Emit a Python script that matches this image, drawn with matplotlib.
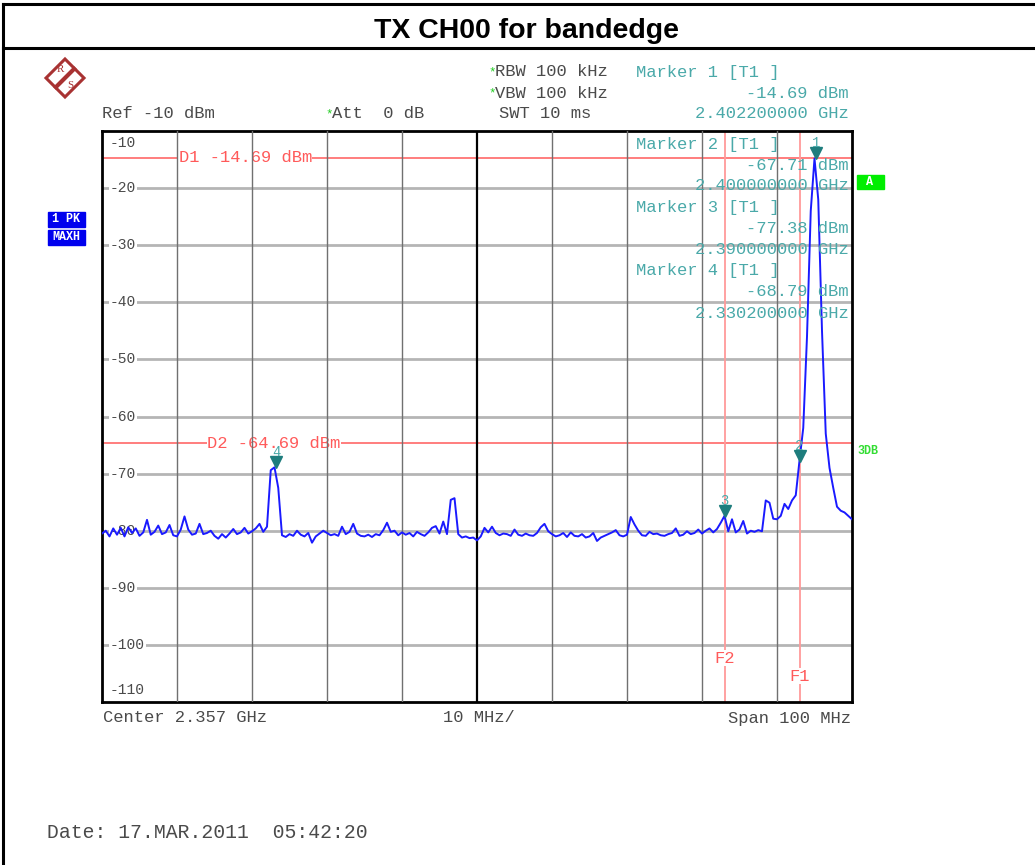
import numpy as np
import matplotlib.pyplot as plt
from matplotlib.lines import Line2D
from matplotlib.patches import Rectangle, Polygon
from matplotlib.transforms import offset_copy

W, H = 1035, 865

# trace: 0.5 MHz steps across the 100 MHz span (dBm)
f_start_mhz = 2307.0
f_step_mhz = 0.5
trace_dbm = [
    -80.5, -80.0, -81.0, -79.6, -80.7, -79.5, -81.0, -79.4, -80.4, -79.6,
    -80.9, -80.3, -78.1, -80.7, -80.2, -79.1, -80.6, -80.3, -79.0, -80.8,
    -81.0, -79.8, -77.5, -79.8, -80.7, -80.5, -78.8, -80.6, -80.4, -80.0,
    -80.9, -81.4, -80.6, -81.2, -80.5, -79.7, -80.6, -80.3, -79.5, -80.5,
    -80.1, -79.6, -78.8, -80.2, -79.3, -69.4, -68.9, -72.5, -80.8, -81.1,
    -80.6, -80.9, -80.0, -80.7, -81.0, -80.4, -82.1, -81.0, -80.5, -80.0,
    -80.4, -80.8, -80.6, -80.9, -79.3, -80.6, -80.2, -78.8, -80.5, -80.9,
    -81.0, -80.7, -81.1, -80.6, -80.8, -79.9, -78.6, -80.2, -80.0, -80.8,
    -80.3, -80.7, -80.4, -81.0, -80.2, -80.6, -80.9, -80.3, -79.5, -79.2,
    -80.5, -78.4, -80.6, -74.6, -74.3, -80.6, -81.2, -81.0, -81.3, -81.2,
    -81.7, -81.0, -79.5, -80.3, -79.3, -80.4, -80.8, -80.5, -80.6, -80.9,
    -79.8, -80.7, -80.9, -80.5, -80.8, -80.9, -80.4, -79.4, -78.8, -80.1,
    -80.6, -81.0, -80.8, -80.4, -81.1, -80.3, -80.9, -81.0, -80.6, -81.2,
    -81.0, -80.4, -81.8, -81.2, -80.9, -80.6, -80.3, -79.9, -80.8, -81.0,
    -80.7, -77.6, -78.9, -80.0, -80.8, -80.9, -80.2, -80.6, -80.5, -80.8,
    -80.9, -80.6, -80.4, -79.6, -80.9, -80.7, -80.1, -80.6, -80.4, -79.8,
    -80.5, -80.0, -79.6, -80.3, -79.7, -78.6, -77.4, -80.1, -78.0, -80.3,
    -79.8, -78.3, -80.5, -80.0, -80.2, -79.9, -80.1, -74.7, -75.1, -77.9,
    -78.0, -77.4, -75.3, -76.2, -74.7, -73.8, -67.7, -62.0, -46.0, -24.0,
    -14.8, -22.0, -45.0, -63.0, -69.0, -72.5, -75.8, -76.5, -76.8, -77.4,
    -78.0,
]

# markers
marker_ids = ["1", "2", "3", "4"]
marker_ghz = [2.4022, 2.4000, 2.3900, 2.3302]
marker_dbm = [-14.69, -67.71, -77.38, -68.79]

# display lines
d_names = ["D1", "D2"]
d_levels = [-14.69, -64.69]
f_names = ["F1", "F2"]
f_lines_ghz = [2.400, 2.390]
f_label_dbm = [-105.5, -102.3]

y_ticks = [-10, -20, -30, -40, -50, -60, -70, -80, -90, -100, -110]

freq_ghz = (f_start_mhz + f_step_mhz * np.arange(len(trace_dbm))) / 1000.0

mono = "Liberation Mono"
grey = "#4a4a4a"
teal = "#4aa9a9"
red = "#ff5a5a"

fig = plt.figure(figsize=(W / 100, H / 100), dpi=100)


def fx(x):
    return x / W


def fy(y):
    return 1 - y / H


def ftext(x, y, s, **kw):
    kw.setdefault("family", mono)
    kw.setdefault("fontsize", 12.3)
    kw.setdefault("color", grey)
    kw.setdefault("va", "center")
    fig.text(fx(x), fy(y), s, **kw)


# page frame and title
fig.add_artist(Line2D([fx(3), fx(3)], [fy(4), fy(865)], color="black", lw=2.2))
fig.add_artist(Line2D([fx(3), fx(1035)], [fy(4), fy(4)], color="black", lw=2.2))
fig.add_artist(Line2D([fx(3), fx(1035)], [fy(48), fy(48)], color="black", lw=2.2))
fig.text(fx(526), fy(31), "TX CH00 for bandedge", family="Liberation Sans",
         weight="bold", fontsize=20.5, ha="center", va="center")

# R&S logo (rough)
cx, cy, r = 65, 78, 19
fig.add_artist(Polygon([[fx(cx), fy(cy - r)], [fx(cx + r), fy(cy)],
                        [fx(cx), fy(cy + r)], [fx(cx - r), fy(cy)]],
                       closed=True, fill=False, ec="#a83232", lw=2.2))
fig.add_artist(Line2D([fx(cx - 9), fx(cx + 9)], [fy(cy + 9), fy(cy - 9)],
                      color="#a83232", lw=3))
fig.text(fx(cx - 5), fy(cy - 8), "R", family="Liberation Serif", fontsize=8,
         color="#a83232", ha="center", va="center")
fig.text(fx(cx + 5), fy(cy + 8), "S", family="Liberation Serif", fontsize=8,
         color="#a83232", ha="center", va="center")

# header lines
ftext(488, 72, "*", color="#22cc22", fontsize=9)
ftext(495, 72, "RBW 100 kHz")
ftext(488, 93, "*", color="#22cc22", fontsize=9)
ftext(495, 93, "VBW 100 kHz")
ftext(499, 114, "SWT 10 ms")
ftext(102, 114, "Ref -10 dBm")
ftext(325, 114, "*", color="#22cc22", fontsize=9)
ftext(332, 114, "Att  0 dB")
ftext(636, 72, "Marker 1 [T1 ]", color=teal)
ftext(849, 93, "%.2f dBm" % marker_dbm[0], color=teal, ha="right")
ftext(849, 114, "%.9f GHz" % marker_ghz[0], color=teal, ha="right")

# side labels
fig.add_artist(Rectangle((fx(48), fy(227)), fx(37), 15 / H, color="#0000ee"))
fig.add_artist(Rectangle((fx(48), fy(245)), fx(37), 15 / H, color="#0000ee"))
ftext(66, 219, "1 PK", color="white", fontsize=8.5, weight="bold", ha="center")
ftext(66, 237, "MAXH", color="white", fontsize=8.5, weight="bold", ha="center")
fig.add_artist(Rectangle((fx(857), fy(189)), fx(27), 14 / H, color="#00ee00"))
ftext(870, 182, "A", color="white", fontsize=8.5, weight="bold", ha="center")
ftext(857, 451, "3DB", color="#33dd33", fontsize=8.5, weight="bold")

# bottom labels
ftext(103, 718, "Center 2.357 GHz")
ftext(443, 718, "10 MHz/")
ftext(851, 718, "Span 100 MHz", ha="right")
ftext(47, 832, "Date: 17.MAR.2011  05:42:20", fontsize=14.2)

# analyzer screen
ax = fig.add_axes([fx(102), fy(702), 750 / W, 571 / H])
ax.set_xlim(2.307, 2.407)
ax.set_ylim(-110, -10)
ax.set_xticks([])
ax.set_yticks([])
for sp in ax.spines.values():
    sp.set_linewidth(2)
    sp.set_color("black")

for k in range(1, 10):
    xg = 2.307 + 0.01 * k
    if k == 5:
        ax.axvline(xg, color="black", lw=1.6, zorder=4)
    else:
        ax.axvline(xg, color="#707070", lw=1.0, zorder=4)
for yv in y_ticks[1:-1]:
    ax.axhline(yv, color="#b5b5b5", lw=2.0, zorder=1)

for yv in y_ticks:
    yy = yv
    if yv == -10:
        yy = -12.1
    elif yv == -110:
        yy = -107.9
    ax.text(0.0107, yy, str(yv), transform=ax.get_yaxis_transform(),
            family=mono, fontsize=10.5, color=grey, va="center", ha="left",
            bbox=dict(fc="white", ec="none", pad=0.5), zorder=5)

# display lines D1 / D2
d_label_x = [2.3172, 2.3210]
for name, lev, lx in zip(d_names, d_levels, d_label_x):
    ax.axhline(lev, color=red, lw=1.1, zorder=2)
    ax.text(lx, lev, "%s %.2f dBm" % (name, lev), family=mono, fontsize=12.3,
            color=red, va="center", ha="left",
            bbox=dict(fc="white", ec="none", pad=0.3), zorder=3)

# frequency lines F1 / F2
for name, fl, fy_lab in zip(f_names, f_lines_ghz, f_label_dbm):
    ax.axvline(fl, color="#ff9a9a", lw=1.3, zorder=2)
    ax.text(fl, fy_lab, name, family=mono, fontsize=12.3, color=red,
            ha="center", va="center",
            bbox=dict(fc="white", ec="none", pad=0.3), zorder=3)

# marker info block inside the screen
for i in range(1, 4):
    base = 144 + (i - 1) * 63.5
    ftext(636, base, "Marker %s [T1 ]" % marker_ids[i], color=teal, zorder=5)
    ftext(849, base + 21, "%.2f dBm" % marker_dbm[i], color=teal, ha="right", zorder=5)
    ftext(849, base + 42, "%.9f GHz" % marker_ghz[i], color=teal, ha="right", zorder=5)

# trace
ax.plot(freq_ghz, trace_dbm, color="#1a1aff", lw=1.4, zorder=6)

# markers
tri_tr = offset_copy(ax.transData, fig=fig, x=0, y=5, units="dots")
num_tr = offset_copy(ax.transData, fig=fig, x=0, y=15, units="dots")
for mid, mf, md in zip(marker_ids, marker_ghz, marker_dbm):
    ax.plot([mf], [md], marker="v", ms=8, color="#1e7d7d", transform=tri_tr,
            zorder=7, clip_on=False)
    ax.text(mf, md, mid, transform=num_tr, family=mono, fontsize=10,
            color=teal, ha="center", va="center", zorder=7)

plt.savefig("out.png", dpi=100)
